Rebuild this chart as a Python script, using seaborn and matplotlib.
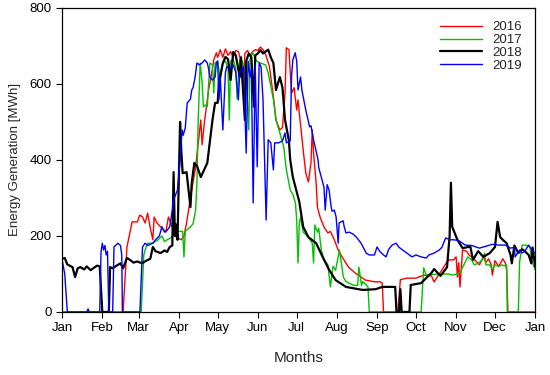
import matplotlib
matplotlib.use('Agg')
import matplotlib.pyplot as plt
import seaborn as sns
import pandas as pd

# ── DATA (day of year, MWh) ────────────────────────────────────────────
months      = ['Jan', 'Feb', 'Mar', 'Apr', 'May', 'Jun', 'Jul', 'Aug',
               'Sep', 'Oct', 'Nov', 'Dec', 'Jan']
month_start = [0, 31, 59, 90, 120, 151, 181, 212, 243, 273, 304, 334, 365]

days_2016 = [0, 47, 50, 54, 58, 60, 62, 64, 66, 68, 70, 71, 73, 76, 80, 82, 86, 88,
             92, 94, 96, 100, 103, 105, 107, 108, 110, 113, 115, 117, 119, 120, 122,
             124, 126, 128, 130, 132, 134, 136, 138, 140, 141, 143, 145, 147, 149,
             151, 153, 155, 157, 160, 163, 165, 168, 170, 172, 173, 175, 177, 179,
             181, 182, 183, 186, 188, 190, 192, 193, 194, 196, 197, 199, 202, 205,
             207, 210, 213, 216, 221, 226, 234, 242, 245, 247, 248, 259, 261, 266,
             273, 279, 285, 287, 292, 298, 302, 304, 305, 306, 307, 309, 312, 314,
             316, 319, 322, 325, 327, 329, 331, 332, 334, 337, 340, 342, 343, 344, 365]
vals_2016 = [0, 0, 171, 237, 237, 255, 250, 234, 260, 221, 190, 250, 235, 224, 210, 250, 215, 197,
             190, 200, 234, 321, 382, 444, 505, 440, 505, 584, 620, 663, 682, 670, 690,
             670, 692, 675, 685, 670, 688, 685, 660, 576, 680, 688, 675, 685, 690,
             688, 697, 690, 678, 645, 566, 505, 479, 485, 576, 695, 690, 576, 590,
             531, 558, 524, 426, 366, 342, 392, 479, 418, 339, 276, 250, 224, 208,
             212, 190, 163, 145, 118, 103, 84, 79, 80, 76, 0, 0, 85, 89,
             89, 97, 95, 79, 105, 137, 137, 145, 92, 130, 66, 163, 160, 150,
             145, 135, 124, 145, 130, 140, 125, 97, 135, 120, 140, 129, 110, 0, 0]

days_2017 = [0, 61, 63, 64, 66, 70, 74, 77, 79, 81, 84, 87, 90, 93, 94, 95, 97, 99, 101,
             103, 104, 105, 106.5, 108, 109, 111, 112, 114, 116, 117, 118, 120, 121, 122,
             124, 126, 128, 129, 130, 132, 134, 135, 137, 139, 142, 144, 145, 147,
             150, 153, 157, 159, 163, 165, 168, 171, 173, 176, 178, 180, 181, 182,
             183, 184, 186, 190, 193, 194, 195, 197, 198, 200, 202, 205, 207, 209,
             211, 214, 217, 219, 222, 225, 228, 229, 231, 232, 235, 236, 237, 277,
             279, 281, 290, 298, 301, 305, 307, 310, 313, 316, 318, 321, 324, 326,
             327, 330, 332, 334, 337, 339, 341, 343, 343.5, 352, 353, 355, 358, 361,
             362, 364, 365]
vals_2017 = [0, 0, 150, 163, 181, 181, 190, 200, 185, 190, 195, 210, 212, 212, 145, 212, 218, 224, 232,
             268, 339, 505, 655, 603, 540, 545, 540, 655, 650, 576, 655, 660, 637, 610,
             655, 660, 640, 505, 660, 665, 640, 560, 665, 660, 620, 479, 665, 682,
             660, 655, 650, 629, 560, 505, 471, 434, 374, 321, 310, 287, 242, 129,
             234, 250, 210, 197, 181, 129, 229, 210, 220, 163, 137, 125, 66, 120,
             110, 163, 92, 80, 75, 70, 70, 118, 70, 80, 70, 66, 0, 0,
             116, 97, 100, 100, 97, 100, 105, 124, 145, 137, 124, 128, 137, 155,
             124, 124, 112, 124, 120, 124, 122, 124, 0, 0, 132, 176, 176, 171,
             140, 120, 111]

days_2018 = [0, 2, 4, 8, 10, 12, 14, 17, 19, 22, 24, 27, 29, 31, 36, 37, 39, 42, 45, 47,
             50, 52, 55, 58, 60, 62, 65, 68, 70, 72, 76, 79, 81, 83, 85, 86, 87, 88,
             89, 91, 92, 93, 96, 99, 100, 102, 104, 107, 109, 112, 116, 118, 120, 121,
             124, 126, 128, 130, 132, 134, 137, 138, 141, 142, 144, 146, 148, 149,
             151, 153, 155, 157, 159, 161, 163, 165, 168, 170, 172, 175, 176, 178,
             181, 183, 186, 190, 196, 201, 206, 211, 219, 232, 242, 247, 254, 257,
             258, 260, 261, 262, 268, 269, 277, 285, 287, 292, 297, 299, 300, 301,
             305, 309, 315, 317, 321, 325, 330, 334, 336, 338, 340, 343, 346, 347,
             349, 352, 355, 357, 360, 362, 363, 365]
vals_2018 = [140, 142, 125, 118, 92, 115, 118, 112, 120, 110, 115, 122, 120, 0, 0, 118, 115, 122, 128, 115,
             142, 138, 130, 133, 130, 129, 135, 140, 171, 160, 155, 162, 158, 171, 175, 368, 200, 230,
             190, 500, 420, 365, 368, 276, 340, 392, 385, 355, 370, 392, 505, 550, 550, 603,
             655, 671, 665, 610, 684, 675, 618, 670, 505, 660, 680, 670, 540, 675,
             680, 689, 680, 685, 690, 670, 655, 584, 618, 590, 505, 450, 400, 355,
             316, 290, 224, 197, 181, 145, 111, 84, 66, 58, 60, 66, 66, 66,
             0, 0, 60, 0, 0, 71, 76, 103, 113, 95, 118, 200, 340, 224,
             190, 168, 172, 137, 160, 145, 155, 171, 237, 197, 190, 181, 150, 128,
             175, 155, 165, 160, 150, 128, 170, 120]

days_2019 = [0, 2, 4, 19, 20, 21, 29, 30, 31, 32, 33, 34, 35, 36, 39, 40, 43, 45, 46,
             46.5, 60, 62, 64, 66, 70, 72, 75, 77, 79, 81, 83, 85, 86, 89, 91, 92.6,
             93.4, 95, 96.5, 99, 100, 101, 102.6, 104, 106, 108, 110, 112, 113, 114,
             116, 118, 119, 120, 121, 122, 124, 126, 127, 130, 132, 134, 136, 137,
             140, 142, 143.5, 145, 146, 147.4, 149, 150.5, 152, 153.5, 155, 157.4,
             159, 161, 163, 164, 167, 170, 172, 173, 176, 177, 178, 179.8, 181, 182,
             184, 185, 188, 191, 192, 194, 197.5, 198, 200, 202, 203, 204.5, 206,
             207.6, 208.3, 210, 211.4, 213, 213.7, 216.8, 217.6, 219, 221.5, 224.5,
             227, 230.7, 234.6, 237, 241, 243, 245, 248, 250, 252, 254.6, 257.7, 260,
             264, 268, 270, 273, 277, 281, 283, 287, 291, 293, 296, 299, 302, 306,
             311, 316, 322, 326, 332, 337, 342, 346, 349, 349.5, 353, 355, 357, 360,
             363, 365]
vals_2019 = [137, 100, 0, 0, 8, 0, 0, 158, 181, 163, 175, 150, 160, 0, 0, 171, 181, 175, 150,
             0, 0, 171, 181, 175, 181, 190, 200, 224, 210, 215, 224, 268, 295, 321, 400, 479,
             465, 484, 550, 560, 584, 590, 618, 655, 650, 655, 663, 655, 640, 618,
             610, 618, 655, 660, 558, 618, 479, 630, 645, 640, 650, 630, 558, 630,
             645, 418, 660, 618, 640, 287, 650, 382, 655, 645, 558, 242,
             453, 445, 374, 445, 445, 450, 471, 445, 450, 618, 663, 682, 660, 584,
             618, 584, 531, 487, 490, 453, 400, 380, 355, 329, 268, 335, 320,
             276, 265, 268, 250, 181, 234, 240, 225, 208, 210, 205,
             197, 181, 155, 150, 150, 171, 160, 150, 145, 165, 176, 181, 170,
             160, 150, 145, 150, 145, 142, 150, 155, 163, 170, 195, 190, 190, 188,
             176, 175, 168, 172, 178, 176, 176, 168, 170, 145, 163, 155, 160, 176,
             160, 155]

years  = ['2016', '2017', '2018', '2019']
colors = {'2016': '#ff0000', '2017': '#00c000', '2018': '#000000', '2019': '#0000ff'}
widths = {'2016': 1.0, '2017': 1.0, '2018': 1.6, '2019': 1.0}

frames = []
for yr, d, v in zip(years, [days_2016, days_2017, days_2018, days_2019],
                    [vals_2016, vals_2017, vals_2018, vals_2019]):
    frames.append(pd.DataFrame({'day': d, 'energy': v, 'year': yr}))
df = pd.concat(frames, ignore_index=True)

# ── PLOT ──────────────────────────────────────────────────────────────
sns.set_style("ticks")
plt.rcParams['font.family'] = ['Liberation Sans', 'DejaVu Sans']

fig = plt.figure(figsize=(5.5, 3.75), dpi=100)
ax = fig.add_axes([0.113, 0.168, 0.86, 0.811])

for yr in years:
    sns.lineplot(data=df[df.year == yr], x='day', y='energy', ax=ax,
                 color=colors[yr], linewidth=widths[yr], label=yr,
                 estimator=None, sort=False)

ax.set_xlim(0, 365)
ax.set_ylim(0, 800)
ax.set_xticks(month_start)
ax.set_xticklabels(months)
ax.set_yticks([0, 200, 400, 600, 800])
ax.tick_params(direction='out', length=4, width=0.8, labelsize=9.5, colors='black')
for s in ax.spines.values():
    s.set_visible(True)
    s.set_color('black')
    s.set_linewidth(0.9)

ax.set_xlabel("Months", fontsize=11, labelpad=12)
ax.set_ylabel("Energy Generation [MWh]", fontsize=9.5, labelpad=6)

ax.legend(loc='upper right', frameon=False, fontsize=9.5, handlelength=3.2,
          labelspacing=0.05, borderaxespad=0.6, handletextpad=0.8)

fig.savefig("out.png", dpi=100)
